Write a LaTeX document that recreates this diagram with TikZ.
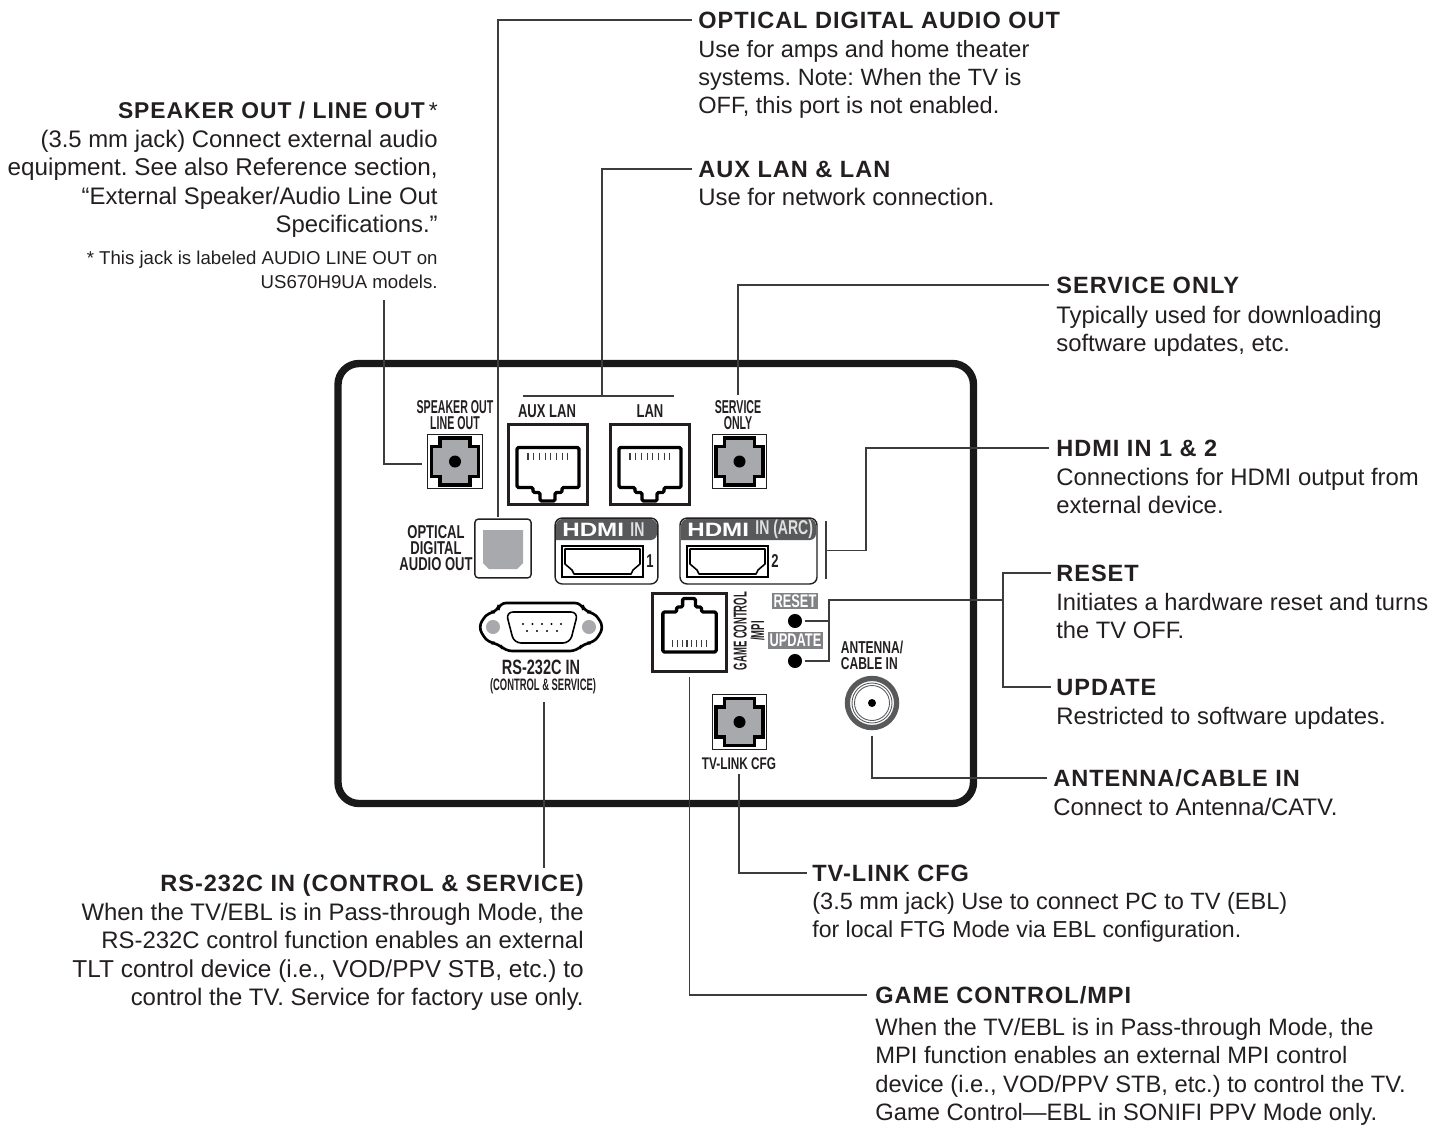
\documentclass[tikz,border=0pt]{standalone}
\usepackage{fontspec}
\setmainfont{Liberation Sans}
\newfontfamily\headfont[LetterSpace=4.2]{Liberation Sans}
\newfontfamily\narrowfont[FakeStretch=0.57]{Liberation Sans}
\newfontfamily\slimfont[FakeStretch=0.51]{Liberation Sans}
\newfontfamily\panelfont[FakeStretch=0.7]{Liberation Sans}
\newfontfamily\logofont[FakeStretch=1.25]{Liberation Sans}
\usetikzlibrary{calc,positioning}
\definecolor{inkC}{HTML}{231F20}
\definecolor{leaderC}{HTML}{3C3C3C}
\definecolor{portC}{HTML}{A7A9AC}
\definecolor{barC}{HTML}{58595B}
\definecolor{tagC}{HTML}{808285}

\tikzset{
  leader/.style={leaderC,line width=0.8pt},
  headtext/.style={font=\headfont\fontsize{13.4}{16}\selectfont\bfseries,text=inkC,inner sep=0pt,text height=9.6pt,text depth=0pt},
  bodytext/.style={font=\fontsize{13.6}{16.1}\selectfont,text=inkC,inner sep=0pt},
  bodytight/.style={font=\fontsize{13.5}{16.1}\selectfont,text=inkC,inner sep=0pt},
  notetext/.style={font=\fontsize{10.6}{13.6}\selectfont,text=inkC,inner sep=0pt},
  paneltext/.style={font=\narrowfont\fontsize{10.6}{9.1}\selectfont\bfseries,text=inkC,inner sep=0pt,align=center},
  panelwide/.style={font=\panelfont\fontsize{10.6}{9.1}\selectfont\bfseries,text=inkC,inner sep=0pt,align=center},
  panelsmall/.style={font=\panelfont\fontsize{9.6}{9.1}\selectfont\bfseries,text=inkC,inner sep=0pt},
  tagbox/.style={fill=tagC,text=white,font=\panelfont\fontsize{10.4}{10}\selectfont\bfseries,inner sep=0pt},
  jackbox/.style={draw=inkC,line width=0.7pt,fill=white,minimum size=31pt,inner sep=0pt,outer sep=3.4pt},
  lanbox/.style={draw=inkC,line width=2pt,fill=white,inner sep=0pt},
  hdmibox/.style={draw=inkC,line width=0.8pt,fill=white,rounded corners=4pt,inner sep=0pt},
  dotport/.style={fill=black,circle,minimum size=8pt,inner sep=0pt,outer sep=1.5pt},
  hdmilogo/.style={font=\logofont\fontsize{11}{11}\selectfont\bfseries,text=white,inner sep=0pt,anchor=west},
  hdmiword/.style={font=\panelfont\fontsize{11.4}{11}\selectfont\bfseries,text=white!88!black,inner sep=0pt,anchor=west}
}

% audio style jack: gray stepped body with a center dot
\newcommand{\phonejack}[1]{
  \begin{scope}[shift={(#1)}]
    \filldraw[fill=portC,draw=black,line width=2.2pt,line join=miter]
      (-15,-23.5) -- (15,-23.5) -- (15,-15) -- (23.5,-15) -- (23.5,15) -- (15,15)
      -- (15,23.5) -- (-15,23.5) -- (-15,15) -- (-23.5,15) -- (-23.5,-15) -- (-15,-15) -- cycle;
    \fill[black] (0,0) circle (6);
  \end{scope}
}

% network jack outline and pins
\newcommand{\lanjack}[2][]{
  \begin{scope}[shift={(#2)},#1]
    \draw[black,line width=1.9pt,line join=round,rounded corners=0.8pt]
      (-31,-17) -- (31,-17) -- (31,23) -- (14,23) -- (14,28) -- (7,28) -- (7,36.5)
      -- (-8,36.5) -- (-8,28) -- (-15,28) -- (-15,23) -- (-31,23) -- cycle;
    \foreach \px in {-20,-14.3,...,20.1}
      \draw[leaderC,line width=0.6pt] (\px,-12) -- (\px,-5);
  \end{scope}
}

% hdmi receptacle inside its rectangle
\newcommand{\hdmiplug}[1]{
  \begin{scope}[shift={(#1)}]
    \draw[black,line width=0.9pt] (0,0) rectangle (81,31);
    \draw[black,line width=0.9pt,line join=round]
      (3,3) -- (78,3) -- (78,18) -- (71,24) -- (69,28) -- (12,28) -- (10,24) -- (3,18) -- cycle;
  \end{scope}
}

\begin{document}
\frenchspacing
\begin{tikzpicture}[x=0.02cm,y=-0.02cm]
  \useasboundingbox (0,0) rectangle (1443,1127);

  % panel outline
  \draw[black!90,line width=4.2pt,rounded corners=12pt] (338,363.5) rectangle (973.5,803.5);

  % labels round the panel
  \node[headtext,anchor=west] (opticalhead) at (698,20) {OPTICAL DIGITAL AUDIO OUT};
  \node[font=\fontsize{13.4}{16.1}\selectfont,text=inkC,inner sep=0pt,align=left,anchor=north west] (opticalbody) at (698,40)
    {Use for amps and home theater\\systems. Note: When the TV is\\OFF, this port is not enabled.};

  \node[headtext,anchor=west] (lanhead) at (698,169) {AUX LAN \& LAN};
  \node[bodytext,align=left,anchor=north west] (lanbody) at (698,188) {Use for network connection.};

  \node[headtext,anchor=west] (servicehead) at (1056,285) {SERVICE ONLY};
  \node[bodytext,align=left,anchor=north west] (servicebody) at (1056,306)
    {Typically used for downloading\\software updates, etc.};

  \node[headtext,anchor=west] (hdmihead) at (1056,448) {HDMI IN 1 \& 2};
  \node[bodytext,align=left,anchor=north west] (hdmibody) at (1056,468)
    {Connections for HDMI output from\\external device.};

  \node[headtext,anchor=west] (resethead) at (1056,573) {RESET};
  \node[bodytight,align=left,anchor=north west] (resetbody) at (1056,593)
    {Initiates a hardware reset and turns\\the TV OFF.};

  \node[headtext,anchor=west] (updatehead) at (1056,687) {UPDATE};
  \node[bodytext,align=left,anchor=north west] (updatebody) at (1056,707) {Restricted to software updates.};

  \node[headtext,anchor=west] (antennahead) at (1053,778) {ANTENNA/CABLE IN};
  \node[bodytext,align=left,anchor=north west] (antennabody) at (1053,798) {Connect to Antenna/CATV.};

  \node[headtext,anchor=west] (tvlinkhead) at (812,873) {TV-LINK CFG};
  \node[font=\fontsize{13.4}{16.1}\selectfont,text=inkC,inner sep=0pt,align=left,anchor=north west] (tvlinkbody) at (812,892)
    {(3.5 mm jack) Use to connect PC to TV (EBL)\\{\fontsize{13.15}{16.1}\selectfont for local FTG Mode via EBL configuration.}};

  \node[headtext,anchor=west] (gamehead) at (875,995) {GAME CONTROL/MPI};
  \node[bodytight,align=left,anchor=north west] (gamebody) at (875,1018)
    {When the TV/EBL is in Pass-through Mode, the\\MPI function enables an external MPI control\\device (i.e., VOD/PPV STB, etc.) to control the TV.\\Game Control---EBL in SONIFI PPV Mode only.};

  \node[headtext,anchor=east] (rshead) at (584,883) {RS-232C IN (CONTROL \& SERVICE)};
  \node[bodytext,align=right,anchor=north east] (rsbody) at (584,903)
    {When the TV/EBL is in Pass-through Mode, the\\RS-232C control function enables an external\\{\fontsize{13.9}{16.1}\selectfont TLT control device (i.e., VOD/PPV STB, etc.) to}\\control the TV. Service for factory use only.};

  \node[headtext,anchor=east,font=\headfont\fontsize{13}{16}\selectfont\bfseries] (speakerhead) at (438,110) {SPEAKER OUT / LINE OUT{\normalfont\mdseries\,*}};
  \node[bodytext,align=right,anchor=north east] (speakerbody) at (438,130)
    {(3.5 mm jack) Connect external audio\\{\fontsize{13.8}{16.1}\selectfont equipment. See also Reference section,}\\``External Speaker/Audio Line Out\\Specifications.''};
  \node[notetext,align=right,anchor=north east] (speakernote) at (438,251)
    {* This jack is labeled AUDIO LINE OUT on\\US670H9UA models.};

  % round jacks
  \node[jackbox] (speakerjack) at (455,461.5) {};
  \phonejack{455,461.5}
  \node[jackbox] (servicejack) at (739.5,461.5) {};
  \phonejack{739.5,461.5}
  \node[jackbox] (tvlinkjack) at (739.5,722) {};
  \phonejack{739.5,722}

  \node[paneltext] (speakerlabel) at (455,415) {SPEAKER OUT\\LINE OUT};
  \node[paneltext] (servicelabel) at (738,415) {SERVICE\\ONLY};
  \node[panelsmall] (tvlinklabel) at (739,764) {TV-LINK CFG};

  % network jacks
  \node[lanbox,minimum width=45pt,minimum height=45.3pt] (auxjack) at (548,464.5) {};
  \lanjack{548,464.5}
  \node[lanbox,minimum width=45pt,minimum height=45.3pt] (lanjack) at (650,464.5) {};
  \lanjack{650,464.5}
  \node[panelwide] (auxlabel) at (547,411) {AUX LAN};
  \node[panelwide] (lanlabel) at (650,411) {LAN};
  \coordinate (lanbarL) at (523,396);
  \coordinate (lanbarR) at (674,396);
  \coordinate (lanbarM) at (602,396);
  \draw[leader] (lanbarL) -- (lanbarR);

  \node[lanbox,minimum width=42pt,minimum height=44.2pt,outer sep=3.4pt] (gamejack) at (689.5,632.5) {};
  \lanjack[yscale=-1,xscale=0.86]{689.5,635}
  \node[font=\slimfont\fontsize{10.6}{10}\selectfont\bfseries,text=inkC,inner sep=0pt,align=center,rotate=90] (gamelabel) at (749,631) {GAME CONTROL\\/MPI};

  % optical port
  \node[draw=inkC,line width=0.8pt,fill=white,rounded corners=2pt,minimum width=32pt,minimum height=33.5pt,inner sep=0pt,outer sep=1pt] (opticalport) at (503,548.5) {};
  \fill[portC] (483,530) -- (523,530) -- (523,563) -- (517,569) -- (489,569) -- (483,563) -- cycle;
  \node[panelwide] (opticallabel) at (436,548) {OPTICAL\\DIGITAL\\AUDIO OUT};

  % hdmi ports
  \node[hdmibox,minimum width=58.5pt,minimum height=37.5pt] (hdmione) at (606.5,551) {};
  \fill[barC,rounded corners=3.6pt] (556,540) -- (556,519) -- (657,519) -- (657,540) [sharp corners] -- cycle;
  \node[hdmilogo] (hdmilogoone) at (562,529.5) {HDMI};
  \node[hdmiword] (hdmiinone) at (630,529.5) {IN};
  \hdmiplug{562,546}
  \node[panelwide] (hdminum) at (650,561) {1};

  \node[hdmibox,minimum width=78pt,minimum height=37.5pt] (hdmitwo) at (748.5,551) {};
  \fill[barC,rounded corners=3.6pt] (681,540) -- (681,519) -- (816,519) -- (816,540) [sharp corners] -- cycle;
  \node[hdmilogo] (hdmilogotwo) at (687,529.5) {HDMI};
  \node[hdmiword] (hdmiintwo) at (755,529.5) {IN (ARC)};
  \hdmiplug{687,546}
  \node[panelwide] (hdmitwonum) at (775,561) {2};
  \coordinate (hdmibarT) at (826,521);
  \coordinate (hdmibarB) at (826,579);
  \coordinate (hdmibarM) at (826,550.5);
  \draw[leader] (hdmibarT) -- (hdmibarB);

  % rs232 connector
  \draw[black,line width=1.5pt,fill=white,rounded corners=4pt]
    (499,603) -- (582,603) -- (584,612) -- (594,612) -- (604,627) -- (594,643) -- (584,643) -- (577,651)
    -- (505,651) -- (498,643) -- (488,643) -- (478,627) -- (488,612) -- (498,612) -- cycle;
  \draw[black,line width=0.9pt,rounded corners=4pt,fill=white]
    (506,612) -- (578,612) -- (570,643) -- (514,643) -- cycle;
  \node[fill=portC,circle,minimum size=8pt,inner sep=0pt] (screwL) at (493,627) {};
  \node[fill=portC,circle,minimum size=8pt,inner sep=0pt] (screwR) at (589,627) {};
  \foreach \px in {523,532.5,542,551.5,561} \fill[black] (\px,624) circle (1.2);
  \foreach \px in {527,537,547,557} \fill[black] (\px,631) circle (1.2);
  \node[font=\panelfont\fontsize{11.8}{12}\selectfont\bfseries,text=inkC,inner sep=0pt] (rslabel) at (541,667) {RS-232C IN};
  \node[font=\narrowfont\fontsize{9.4}{9}\selectfont\bfseries,text=inkC,inner sep=0pt,outer sep=0pt] (rssub) at (543,686) {(CONTROL \& SERVICE)};

  % reset and update
  \node[tagbox,minimum width=26pt,minimum height=9pt] (resettag) at (795,601) {RESET};
  \node[dotport] (resetdot) at (795,621) {};
  \node[tagbox,minimum width=31pt,minimum height=9.6pt] (updatetag) at (795.5,640.5) {UPDATE};
  \node[dotport] (updatedot) at (795,661) {};

  % antenna socket
  \node[draw=barC,line width=3pt,circle,minimum size=28pt,inner sep=0pt,outer sep=4.5pt] (antennaport) at (872,703) {};
  \draw[barC,line width=0.5pt] (872,703) circle (20);
  \draw[barC,line width=0.5pt] (872,703) circle (17.5);
  \fill[black] (872,703) circle (4);
  \node[font=\panelfont\fontsize{9.8}{9.1}\selectfont\bfseries,text=inkC,inner sep=0pt,align=left] (antennalabel) at (872,655) {ANTENNA/\\CABLE IN};

  % leaders
  \draw[leader] ([yshift=-1.4pt]speakerjack.west) -| (384,300);
  \draw[leader] ([xshift=-2.8pt]opticalport.north) |- ([xshift=-3.4pt]opticalhead.west);
  \draw[leader] (lanbarM) |- ([xshift=-3.4pt]lanhead.west);
  \draw[leader] ([yshift=3pt]servicelabel.north) |- ([xshift=-4pt]servicehead.west);
  \draw[leader] (hdmibarM) -| (866,448) -- ([xshift=-4pt]hdmihead.west);
  \draw[leader] (resetdot.east) -- (829,621);
  \draw[leader] (updatedot.east) -| (829,600) -- (1003,600);
  \draw[leader] ([xshift=-3pt]resethead.west) -| (1003,600);
  \draw[leader] ([xshift=-3pt]updatehead.west) -| (1003,600);
  \draw[leader] (antennaport.south) |- ([xshift=-3.4pt]antennahead.west);
  \draw[leader] ([yshift=-2pt]tvlinklabel.south) |- ([xshift=-2.8pt]tvlinkhead.west);
  \draw[leader] (gamejack.south) |- ([xshift=-4.5pt]gamehead.west);
  \draw[leader] ([yshift=-5pt,xshift=0.5pt]rssub.south) -- ++(0,165);
\end{tikzpicture}
\end{document}
